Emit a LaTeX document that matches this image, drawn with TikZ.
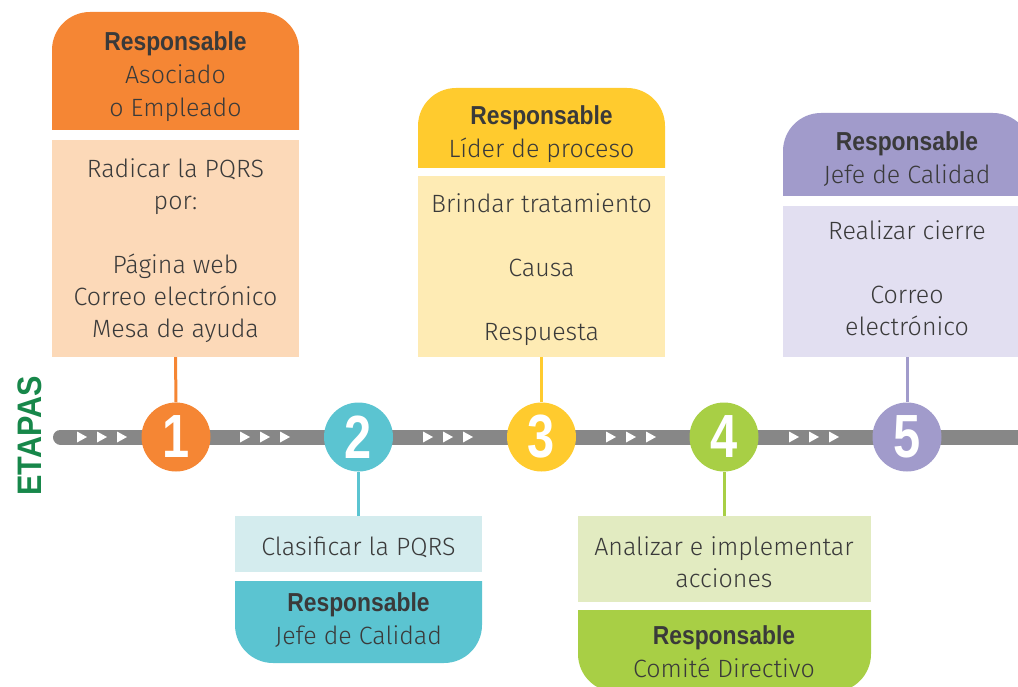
\documentclass[tikz,border=0pt]{standalone}
\usepackage{fontspec}
\setmainfont{Fira Sans Light}
\newfontfamily\condb{Liberation Sans Bold}[FakeStretch=0.88]
\newfontfamily\numf{Liberation Sans Bold}[FakeStretch=0.8]
\newfontfamily\etf{Liberation Sans Bold}[FakeStretch=0.9]
\definecolor{orangeD}{HTML}{F58634}
\definecolor{orangeL}{HTML}{FCD9B8}
\definecolor{tealD}{HTML}{5BC4D1}
\definecolor{tealL}{HTML}{D4ECEE}
\definecolor{yellowD}{HTML}{FFCB2E}
\definecolor{yellowL}{HTML}{FEEBB4}
\definecolor{greenD}{HTML}{A8CF45}
\definecolor{greenL}{HTML}{E2EBC1}
\definecolor{purpleD}{HTML}{A19BCB}
\definecolor{purpleL}{HTML}{E2DFF1}
\definecolor{barc}{HTML}{878787}
\definecolor{txtc}{HTML}{3A3A3A}
\definecolor{etapas}{HTML}{17874A}
\newcommand\respo{{\condb\fontsize{26}{33}\selectfont Responsable}}
\begin{document}
\begin{tikzpicture}[x=1pt,y=-1pt,
  txt/.style={text=txtc, align=center, font=\fontsize{25}{32}\selectfont, inner sep=0pt},
  htxt/.style={txt, font=\fontsize{25}{33}\selectfont},
  bodybox/.style={rectangle, inner sep=0pt, minimum width=247pt},
  stage/.style={circle, inner sep=0pt, minimum size=69pt, text=white, font=\numf\fontsize{61}{61}\selectfont},
  link/.style={line width=3pt},
  tri/.style={fill=white}
]
\useasboundingbox (0,0) rectangle (1018,687);
\clip (0,0) rectangle (1018,687);

% timeline bar
\coordinate (barstart) at (60.5,437);
\coordinate (barend) at (1040,437);
\draw[barc, line width=15pt, line cap=round] (barstart) -- (barend);
\foreach \g in {102,265,448,631,814}{
  \foreach \d in {-20,0,20}{
    \fill[tri] (\g+\d-5,431.5) -- (\g+\d+5,437) -- (\g+\d-5,442.5) -- cycle;
  }
}

% ETAPAS
\node[rotate=90, text=etapas, font=\etf\fontsize{34}{34}\selectfont, inner sep=0pt] (et) at (30,436) {ETAPAS};

% Stage 1
\fill[orangeD] (52,130) [rounded corners=38pt] -- (52,12) -- (299,12) [sharp corners] -- (299,130) -- cycle;
\node[htxt] (h1) at (175.5,77) {\respo\\Asociado\\o Empleado};
\node[bodybox, fill=orangeL, minimum height=217pt] (b1) at (175.5,248.5) {};
\node[txt] (bt1) at (175.5,251) {Radicar la PQRS\\por:\\[32pt]Página web\\Correo electrónico\\Mesa de ayuda};
\node[stage, fill=orangeD] (c1) at (176,437) {1};
\draw[link, orangeD] (b1.south) -- (c1.north);

% Stage 2
\node[bodybox, fill=tealL, minimum height=56pt] (l2) at (358.5,544) {};
\node[txt] (lt2) at (358.5,547) {Clasificar la PQRS};
\fill[tealD] (235,581) [rounded corners=38pt] -- (235,663) -- (482,663) [sharp corners] -- (482,581) -- cycle;
\node[htxt] (t2) at (358.5,620) {\respo\\Jefe de Calidad};
\node[stage, fill=tealD] (c2) at (358.5,437) {2};
\draw[link, tealD] (c2.south) -- (l2.north);

% Stage 3
\fill[yellowD] (418,168) [rounded corners=38pt] -- (418,88) -- (665,88) [sharp corners] -- (665,168) -- cycle;
\node[htxt] (h3) at (541.5,134) {\respo\\Líder de proceso};
\node[bodybox, fill=yellowL, minimum height=181pt] (b3) at (541.5,266.5) {};
\node[txt] (bt3) at (541.5,269.5) {Brindar tratamiento\\[32pt]Causa\\[32pt]Respuesta};
\node[stage, fill=yellowD] (c3) at (541.5,437) {3};
\draw[link, yellowD] (b3.south) -- (c3.north);

% Stage 4
\node[bodybox, fill=greenL, minimum width=293pt, minimum height=86pt] (l4) at (724,559) {};
\node[txt] (lt4) at (724,562) {Analizar e implementar\\acciones};
\fill[greenD] (578,610) [rounded corners=38pt] -- (578,692) -- (871,692) [sharp corners] -- (871,610) -- cycle;
\node[htxt] (t4) at (724,651.5) {\respo\\Comité Directivo};
\node[stage, fill=greenD] (c4) at (724,437) {4};
\draw[link, greenD] (c4.south) -- (l4.north);

% Stage 5
\fill[purpleD] (783,196) [rounded corners=38pt] -- (783,113) -- (1031,113) [sharp corners] -- (1031,196) -- cycle;
\node[htxt] (h5) at (907,159.5) {\respo\\Jefe de Calidad};
\node[bodybox, fill=purpleL, minimum width=248pt, minimum height=151pt] (b5) at (907,281.5) {};
\node[txt] (bt5) at (907,278) {Realizar cierre\\[32pt]Correo\\electrónico};
\node[stage, fill=purpleD] (c5) at (907,437) {5};
\draw[link, purpleD] (b5.south) -- (c5.north);
\end{tikzpicture}
\end{document}
